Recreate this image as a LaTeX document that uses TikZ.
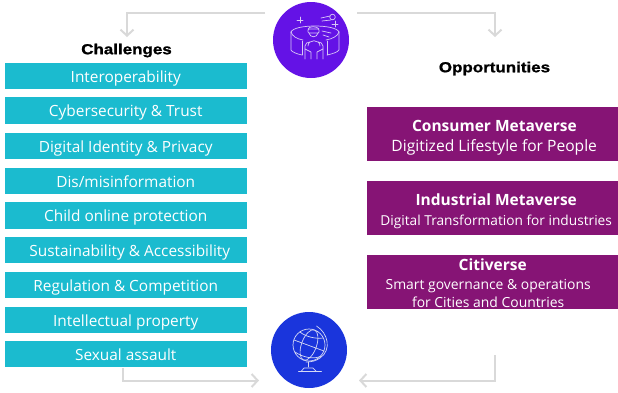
\documentclass[tikz,border=0pt]{standalone}
\usepackage{fontspec}
\setmainfont{Open Sans}
\newfontfamily\headfont[FakeStretch=1.17,FakeBold=1.2]{Liberation Sans Bold}
\usetikzlibrary{arrows.meta}
\definecolor{teal}{HTML}{1BBBCF}
\definecolor{plum}{HTML}{861475}
\definecolor{violet}{HTML}{6412E6}
\definecolor{globeblue}{HTML}{1A35DC}
\definecolor{flow}{HTML}{D9D9D9}
\definecolor{iconline}{HTML}{D8C8F5}
\definecolor{globeline}{HTML}{D5D9F5}
\newcommand{\ptitle}{\bfseries\fontsize{15.5}{20}\selectfont}
\tikzset{
 x=1pt,y=-1pt,
 tealbox/.style={fill=teal,draw=none,minimum width=241.5pt,minimum height=26.5pt,inner sep=0pt,text=white,font=\fontsize{15.4}{18}\selectfont,anchor=center,text height=14pt,text depth=2pt},
 plumbox/.style={fill=plum,draw=none,minimum width=252pt,minimum height=54pt,inner sep=0pt,text=white,align=center,anchor=center},
 head/.style={font=\headfont\fontsize{14.5}{16}\selectfont,text=black,inner sep=0pt},
 disc/.style={circle,minimum size=76pt,inner sep=0pt},
 flowline/.style={draw=flow,line width=2pt,-{Straight Barb[length=6pt,width=13pt,line width=2pt]}},
 icon/.style={line width=.7pt,line cap=round,line join=round},
}
\begin{document}
\begin{tikzpicture}
\useasboundingbox (0,0) rectangle (618,392);
\node[disc,fill=violet] (vr) at (311,40) {};
\node[disc,fill=globeblue] (globe) at (309,350) {};
\node[head] (chal) at (126.5,50.5) {Challenges};
\node[head] (opp) at (494.5,68.5) {Opportunities};
\foreach \n/\y/\t in {a/76/{Interoperability},b/110.7/{Cybersecurity \& Trust},c/146/{Digital Identity \& Privacy},d/181/{Dis/misinformation},e/215.5/{Child online protection},f/250/{\hspace*{8pt}Sustainability \& Accessibility},g/285/{Regulation \& Competition},h/320/{Intellectual property},i/354/{Sexual assault}}
 \node[tealbox] (\n) at (125.75,\y) {\t};
\node[plumbox,font=\fontsize{15.6}{20}\selectfont] (p1) at (492.7,134) {\rule{0pt}{18pt}\hspace*{3.4pt}{\ptitle Consumer Metaverse}\\\hspace*{3pt}Digitized Lifestyle for People};
\node[plumbox,font=\fontsize{13.7}{19.5}\selectfont] (p2) at (492.7,208) {\rule{0pt}{18pt}\hspace*{7pt}{\ptitle Industrial Metaverse}\\\hspace*{7pt}Digital Transformation for industries};
\node[plumbox,font=\fontsize{13.9}{18.5}\selectfont] (p3) at (492.7,282) {\rule{0pt}{15pt}{\ptitle Citiverse}\\Smart governance \& operations\hspace*{9pt}\mbox{}\\for Cities and Countries\hspace*{9pt}\mbox{}};
\coordinate (tl) at (265,12.7);
\coordinate (tr) at (357,12.7);
\coordinate (bl) at (122.7,368);
\coordinate (br) at (495,355);
\draw[flowline] (tl) -| (127,37);
\draw[flowline] (tr) -| (495,37);
\draw[flowline] (bl) |- (259,380.5);
\draw[flowline] (br) |- (359,380.5);
% VR icon
\begin{scope}[icon,draw=iconline]
\draw (291,32) .. controls (294,24) and (336,24) .. (339,32);
\draw (291,32) .. controls (292,36) and (297,39) .. (303,40);
\draw (339,32) .. controls (338,36) and (332,39) .. (326,40);
\draw (291,32) -- (291,50) .. controls (292,52) and (297,54) .. (302,55);
\draw (339,32) -- (339,50) .. controls (338,52) and (332,54) .. (327,55);
\draw (302,41) -- (302,55);
\draw (327,41) -- (327,55);
% person
\draw (308,29) .. controls (309,26) and (317,26) .. (319,29);
\draw[rounded corners=1pt] (308,29) rectangle (319,33);
\draw (309,33) .. controls (310,38) and (317,38) .. (318,33);
\draw (305,59) -- (305,46) .. controls (305,43) and (308,42) .. (310,42);
\draw (323,59) -- (323,46) .. controls (323,43) and (320,42) .. (318,42);
\draw (308,46) .. controls (308,39) and (320,39) .. (320,46);
\draw (305,49) -- (311,52) -- (311,59);
\draw (323,49) -- (317,52) -- (317,59);
% marks
\draw (322,31) -- (331,33);
\draw (323,35) -- (329,37);
\draw (300,17) -- (300,23) (297,20) -- (303,20);
\draw (335,21) -- (335,27) (332,24) -- (338,24);
\draw (332.5,17) circle (2.8);
\draw (321,18) -- (330,16);
\draw (322,21) -- (331,20);
\end{scope}
% Globe icon
\begin{scope}[icon,draw=globeline]
\draw (309,345) circle (16);
\draw[rotate around={-20:(309,345)}] (309,345) ellipse [x radius=7.5,y radius=16];
\draw (294,340) -- (324,351);
\draw (300,332) .. controls (306,337) and (316,339) .. (323,338);
\draw (295,352) .. controls (302,357) and (314,360) .. (321,356);
\draw (316.5,326) .. controls (328,333) and (332,350) .. (320,358) .. controls (316,361) and (311,362) .. (306,362);
\draw (308.5,362) -- (308.5,367);
\draw (301.5,371) -- (304,368) -- (313,368) -- (316,371);
\draw (298.5,371) -- (321.5,371);
\end{scope}
\end{tikzpicture}
\end{document}
